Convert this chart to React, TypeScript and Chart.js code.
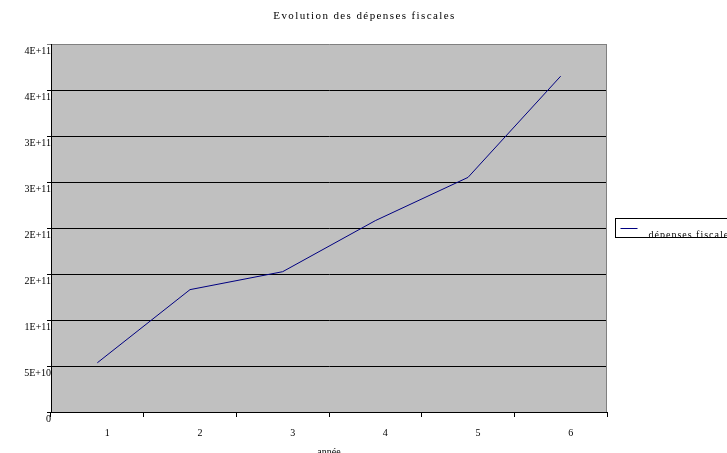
import React, { useEffect, useRef } from "react";
import { Chart, registerables } from "chart.js";

Chart.register(...registerables);

const titleText = "Evolution des dépenses fiscales";
const xAxisTitle = "année";
const seriesLabel = "dépenses fiscales";
const categories = ["1", "2", "3", "4", "5", "6"];
const depenses = [5.35e10, 1.33e11, 1.525e11, 2.08e11, 2.55e11, 3.65e11];
const yMax = 4e11;
const yStep = 5e10;

function fmt(v: number): string {
  if (Math.abs(v) < 1) return "0";
  return v.toExponential(0).replace("e", "E");
}

const excelLook = {
  id: "excelLook",
  beforeDraw(chart: any) {
    const { ctx, chartArea: a } = chart;
    ctx.save();
    ctx.fillStyle = "#C0C0C0";
    ctx.fillRect(a.left, a.top, a.right - a.left, a.bottom - a.top);
    ctx.restore();
  },
  afterDraw(chart: any) {
    const { ctx, chartArea: a, width } = chart;
    ctx.save();
    // right border of plot
    ctx.strokeStyle = "#808080";
    ctx.lineWidth = 1;
    const rx = Math.round(a.right) - 0.5;
    ctx.beginPath();
    ctx.moveTo(rx, a.top);
    ctx.lineTo(rx, a.bottom);
    ctx.stroke();

    // title
    ctx.fillStyle = "#000";
    ctx.font = '11px "Liberation Serif"';
    (ctx as any).letterSpacing = "1.4px";
    ctx.textAlign = "center";
    ctx.textBaseline = "middle";
    ctx.fillText(titleText, width / 2 + 1, 16);

    // legend
    const ds = chart.data.datasets[0];
    const bx = Math.round(a.right) + 8.5;
    const by = Math.round((a.top + a.bottom) / 2) - 9.5;
    const bw = 130;
    const bh = 19;
    ctx.fillStyle = "#FFFFFF";
    ctx.fillRect(bx, by, bw, bh);
    ctx.strokeStyle = ds.borderColor;
    ctx.lineWidth = 1;
    ctx.beginPath();
    ctx.moveTo(bx + 5, by + 10);
    ctx.lineTo(bx + 22, by + 10);
    ctx.stroke();
    ctx.save();
    ctx.beginPath();
    ctx.rect(bx + 1, by + 1, bw - 2, bh - 1);
    ctx.clip();
    ctx.fillStyle = "#000";
    ctx.font = '10px "Liberation Serif"';
    (ctx as any).letterSpacing = "1px";
    ctx.textAlign = "left";
    ctx.textBaseline = "alphabetic";
    ctx.fillText(ds.label, bx + 33, by + bh + 0.5);
    ctx.restore();
    ctx.strokeStyle = "#000";
    ctx.strokeRect(bx, by, bw, bh);
    ctx.restore();
  },
};

export default function App() {
  const ref = useRef<HTMLCanvasElement | null>(null);

  useEffect(() => {
    if (!ref.current) return;
    const font = { family: "Liberation Serif", size: 10 };
    const chart = new Chart(ref.current, {
      type: "line",
      data: {
        labels: categories,
        datasets: [
          {
            label: seriesLabel,
            data: depenses,
            borderColor: "#000080",
            backgroundColor: "#000080",
            borderWidth: 1,
            pointRadius: 0,
            tension: 0,
          },
        ],
      },
      options: {
        animation: false,
        responsive: true,
        maintainAspectRatio: false,
        layout: { padding: { top: 44, right: 120, left: 0, bottom: 0 } },
        plugins: {
          legend: { display: false },
          title: { display: false },
          tooltip: { enabled: false },
        },
        scales: {
          x: {
            type: "category",
            offset: true,
            grid: {
              offset: true,
              drawOnChartArea: false,
              drawTicks: true,
              tickLength: 5,
              color: "#000",
            },
            border: { color: "#000", width: 1 },
            ticks: {
              color: "#000",
              font,
              labelOffset: 10,
              padding: 10,
              maxRotation: 0,
            },
            title: {
              display: true,
              text: xAxisTitle,
              color: "#000",
              font,
              padding: { top: 0, bottom: -5 },
            },
            afterFit(scale: any) {
              scale.height = 41;
            },
          },
          y: {
            min: 0,
            max: yMax,
            grid: {
              color: (c: any) =>
                c.tick && c.tick.value >= yMax ? "#808080" : "#000000",
              tickLength: 4,
              lineWidth: 1,
            },
            border: { color: "#000", width: 1 },
            ticks: {
              stepSize: yStep,
              color: "#000",
              font,
              labelOffset: 7,
              padding: -4,
              callback: (v: any) => fmt(Number(v)),
            },
            afterFit(scale: any) {
              scale.width = 51;
            },
          },
        },
      },
      plugins: [excelLook],
    });
    return () => chart.destroy();
  }, []);

  return (
    <div
      style={{
        position: "fixed",
        left: 0,
        top: 0,
        width: 727,
        height: 453,
        background: "#fff",
      }}
    >
      <canvas ref={ref} />
    </div>
  );
}
